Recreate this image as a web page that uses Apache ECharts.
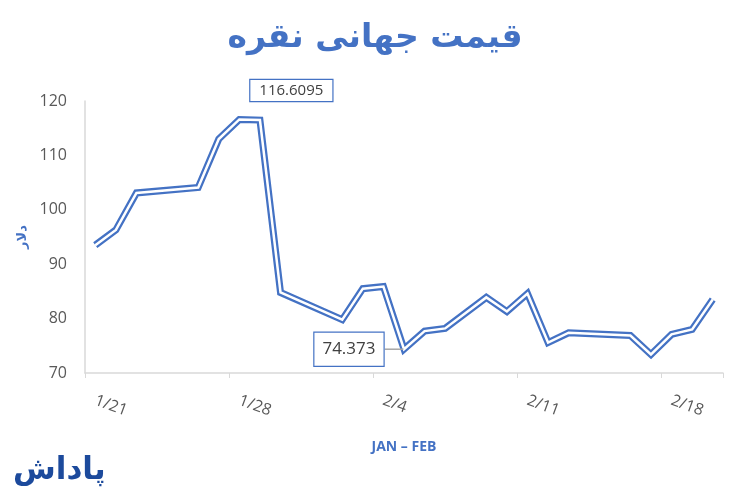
<!DOCTYPE html>
<html>
<head>
<meta charset="utf-8">
<script src="https://cdn.jsdelivr.net/npm/echarts@6/dist/echarts.min.js"></script>
<style>
  html, body { margin: 0; padding: 0; background: #fff; }
  #chart { width: 750px; height: 500px; }
</style>
</head>
<body>
<div id="chart"></div>
<script>
// روزها از 1/21 تا 2/20
var days = [
  "1/21", "1/22", "1/23", "1/24", "1/25", "1/26", "1/27", "1/28", "1/29", "1/30", "1/31",
  "2/1", "2/2", "2/3", "2/4", "2/5", "2/6", "2/7", "2/8", "2/9", "2/10",
  "2/11", "2/12", "2/13", "2/14", "2/15", "2/16", "2/17", "2/18", "2/19", "2/20"
];
// قیمت (null = روز بدون داده)
var prices = [
  93.5, 96.3, 103.1, null, null, 104.1, 113.0, 116.6095, 116.5, 84.8, null,
  null, 79.8, 85.5, 85.9, 74.373, 77.7, 78.2, null, 83.9, 81.3,
  84.6, 75.6, 77.4, null, null, 76.9, 73.4, 77.1, 78.0, 83.5
];
var yTicks = [70, 80, 90, 100, 110, 120];

(function () {
  var myChart = echarts.init(document.getElementById("chart"));
  var blue = "#4472C4";
  var maxIdx = 7, minIdx = 15;

  // داده‌ی سری رویی با برچسب بیشینه و کمینه
  var topData = prices.map(function (v, i) {
    if (i === maxIdx) {
      return {
        value: v,
        label: { show: true, position: "top", distance: 0, fontSize: 15, padding: [3, 9] }
      };
    }
    if (i === minIdx) {
      return {
        value: v,
        label: { show: true, position: "left", distance: 2, fontSize: 17, padding: [8, 8] },
        labelLine: { show: true, lineStyle: { color: "#a6a6a6", width: 1.5 } }
      };
    }
    return v;
  });

  var option = {
    animation: false,
    title: {
      text: "قیمت جهانی نقره",
      left: "center",
      top: 17,
      textStyle: {
        fontFamily: "DejaVu Sans",
        fontSize: 33,
        fontWeight: "bold",
        color: blue
      }
    },
    grid: {
      left: 85,
      right: 27,
      top: 101,
      bottom: 127
    },
    xAxis: {
      type: "category",
      data: days,
      boundaryGap: true,
      name: "JAN – FEB",
      nameLocation: "middle",
      nameGap: 67,
      nameTextStyle: {
        fontFamily: "Open Sans",
        fontSize: 14,
        fontWeight: "bold",
        color: blue
      },
      axisLine: { lineStyle: { color: "#d9d9d9", width: 1.5 } },
      axisTick: { show: true, interval: 6, length: 5, lineStyle: { color: "#d9d9d9" } },
      axisLabel: {
        interval: 6,
        rotate: -20,
        margin: 27,
        fontFamily: "Open Sans",
        fontSize: 16,
        color: "#595959"
      }
    },
    yAxis: {
      type: "value",
      min: yTicks[0],
      max: yTicks[yTicks.length - 1],
      interval: 10,
      name: "دلار",
      nameLocation: "middle",
      nameRotate: 90,
      nameGap: 50,
      nameTextStyle: {
        fontFamily: "DejaVu Sans",
        fontSize: 13,
        fontWeight: "bold",
        color: blue
      },
      axisLine: { show: true, lineStyle: { color: "#d9d9d9", width: 1.5 } },
      axisTick: { show: false },
      splitLine: { show: false },
      axisLabel: {
        margin: 18,
        fontFamily: "Open Sans",
        fontSize: 16,
        color: "#595959"
      }
    },
    graphic: [
      {
        type: "text",
        left: 13,
        top: 455,
        style: {
          text: "پاداش",
          fontFamily: "DejaVu Sans",
          fontSize: 31,
          fontWeight: "bold",
          fill: "#1c4a9c"
        }
      }
    ],
    series: [
      {
        type: "line",
        data: prices,
        connectNulls: true,
        symbol: "none",
        silent: true,
        lineStyle: { color: blue, width: 7, join: "miter" },
        z: 2
      },
      {
        type: "line",
        data: topData,
        connectNulls: true,
        symbol: "circle",
        symbolSize: 1,
        showSymbol: true,
        itemStyle: { color: "#fff" },
        lineStyle: { color: "#fff", width: 2.5, join: "miter" },
        label: {
          show: false,
          formatter: function (p) { return p.value; },
          fontFamily: "Open Sans",
          color: "#404040",
          backgroundColor: "#fff",
          borderColor: blue,
          borderWidth: 1.2
        },
        labelLayout: function (p) {
          if (p.dataIndex === minIdx) {
            return { dx: -18 };
          }
          if (p.dataIndex === maxIdx) {
            return { dx: 52, dy: -18 };
          }
        },
        z: 3
      }
    ]
  };

  myChart.setOption(option);
  window.addEventListener("resize", function () {
    myChart.resize();
  });
})();
</script>
</body>
</html>
